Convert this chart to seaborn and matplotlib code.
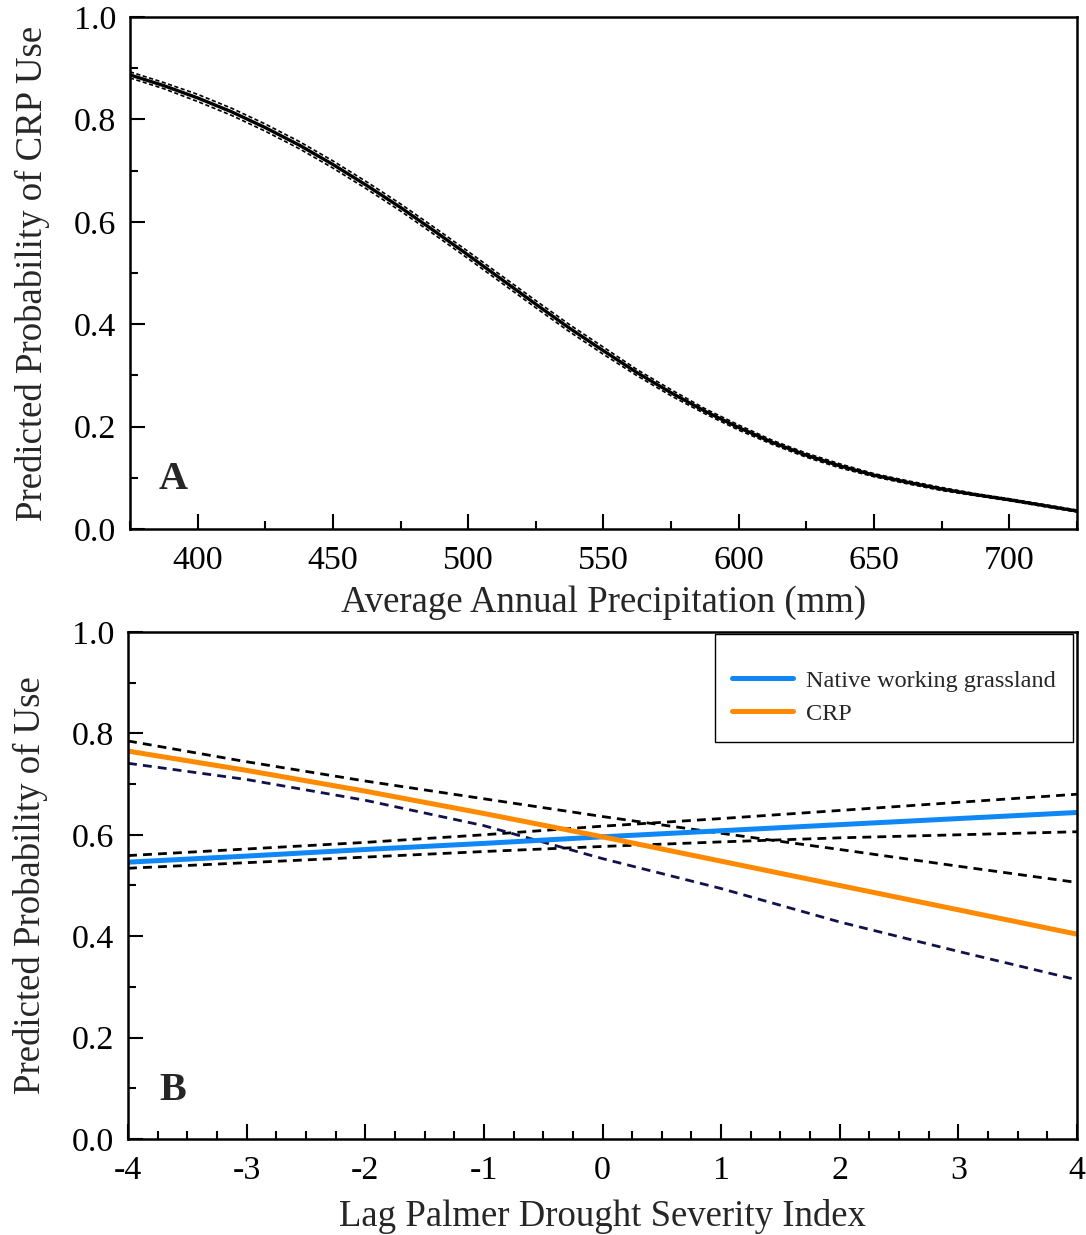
import numpy as np
import pandas as pd
import matplotlib
matplotlib.use("Agg")
import matplotlib.pyplot as plt
from matplotlib.ticker import MultipleLocator, FormatStrFormatter
import seaborn as sns

# ---------------- Data ----------------
# Panel A: precipitation (mm) vs predicted probability of CRP use
precip = [375, 387.5, 400, 412.5, 425, 437.5, 450, 462.5, 475, 487.5, 500, 512.5,
          525, 537.5, 550, 562.5, 575, 587.5, 600, 612.5, 625, 637.5, 650, 662.5,
          675, 687.5, 700, 712.5, 725]
prob_crp = [0.887, 0.866, 0.842, 0.815, 0.784, 0.750, 0.712, 0.671, 0.628, 0.582,
            0.535, 0.487, 0.439, 0.392, 0.348, 0.305, 0.266, 0.230, 0.198, 0.169,
            0.144, 0.123, 0.105, 0.091, 0.078, 0.067, 0.057, 0.046, 0.035]
prob_crp_upper = [0.893, 0.872, 0.849, 0.822, 0.791, 0.757, 0.719, 0.678, 0.635, 0.589,
                  0.542, 0.494, 0.446, 0.399, 0.355, 0.311, 0.272, 0.235, 0.203, 0.173,
                  0.148, 0.127, 0.108, 0.094, 0.081, 0.069, 0.059, 0.048, 0.037]
prob_crp_lower = [0.881, 0.860, 0.835, 0.808, 0.777, 0.743, 0.705, 0.664, 0.621, 0.575,
                  0.528, 0.480, 0.432, 0.385, 0.341, 0.299, 0.260, 0.225, 0.193, 0.165,
                  0.140, 0.119, 0.102, 0.088, 0.075, 0.065, 0.055, 0.044, 0.033]

# Panel B: lag PDSI vs predicted probability of use
pdsi = [-4, -3, -2, -1, 0, 1, 2, 3, 4]
native = [0.546, 0.558, 0.571, 0.583, 0.596, 0.608, 0.620, 0.632, 0.644]
native_upper = [0.559, 0.572, 0.585, 0.600, 0.617, 0.632, 0.648, 0.664, 0.680]
native_lower = [0.534, 0.545, 0.556, 0.567, 0.577, 0.586, 0.594, 0.600, 0.606]
crp = [0.765, 0.727, 0.686, 0.642, 0.596, 0.548, 0.500, 0.452, 0.404]
crp_upper = [0.785, 0.744, 0.706, 0.671, 0.636, 0.603, 0.571, 0.538, 0.506]
crp_lower = [0.741, 0.709, 0.668, 0.618, 0.553, 0.494, 0.428, 0.370, 0.314]

legend_labels = ["Native working grassland", "CRP"]
xlabel_a = "Average Annual Precipitation (mm)"
xlabel_b = "Lag Palmer Drought Severity Index"
ylabel_a = "Predicted Probability of CRP Use"
ylabel_b = "Predicted Probability of Use"

# ---------------- Style ----------------
sns.set_style("ticks")
plt.rcParams["font.family"] = ["Liberation Serif", "DejaVu Serif"]
plt.rcParams["axes.unicode_minus"] = False

BLUE = "#0f87f5"
ORANGE = "#ff8a00"
NAVY = "#12124a"

fig = plt.figure(figsize=(10.86, 12.35), dpi=100)
axA = fig.add_axes([0.1197, 0.5717, 0.8720, 0.4145])
axB = fig.add_axes([0.1179, 0.0777, 0.8738, 0.4106])

dfA = pd.DataFrame({"x": precip, "y": prob_crp, "up": prob_crp_upper, "lo": prob_crp_lower})
sns.lineplot(data=dfA, x="x", y="up", ax=axA, color="black", lw=1.2,
             linestyle=(0, (2.5, 1.5)), legend=False)
sns.lineplot(data=dfA, x="x", y="lo", ax=axA, color="black", lw=1.2,
             linestyle=(0, (2.5, 1.5)), legend=False)
sns.lineplot(data=dfA, x="x", y="y", ax=axA, color="black", lw=2.4, legend=False)

dfB = pd.DataFrame({"x": pdsi, "nat": native, "nat_up": native_upper, "nat_lo": native_lower,
                    "crp": crp, "crp_up": crp_upper, "crp_lo": crp_lower})
dash = (0, (3.2, 2.2))
sns.lineplot(data=dfB, x="x", y="nat_up", ax=axB, color="black", lw=2.0, linestyle=dash, legend=False)
sns.lineplot(data=dfB, x="x", y="nat_lo", ax=axB, color="black", lw=2.0, linestyle=dash, legend=False)
sns.lineplot(data=dfB, x="x", y="crp_up", ax=axB, color="black", lw=2.0, linestyle=dash, legend=False)
sns.lineplot(data=dfB, x="x", y="crp_lo", ax=axB, color=NAVY, lw=2.0, linestyle=dash, legend=False)
sns.lineplot(data=dfB, x="x", y="nat", ax=axB, color=BLUE, lw=3.6, label=legend_labels[0])
sns.lineplot(data=dfB, x="x", y="crp", ax=axB, color=ORANGE, lw=3.6, label=legend_labels[1])

# ---------------- Axes formatting ----------------
def style_axes(ax, xlim, xmaj, xmin, xfmt):
    ax.set_xlim(*xlim)
    ax.set_ylim(0, 1.0)
    ax.xaxis.set_major_locator(MultipleLocator(xmaj))
    ax.xaxis.set_minor_locator(MultipleLocator(xmin))
    ax.yaxis.set_major_locator(MultipleLocator(0.2))
    ax.yaxis.set_minor_locator(MultipleLocator(0.1))
    ax.yaxis.set_major_formatter(FormatStrFormatter("%.1f"))
    ax.xaxis.set_major_formatter(FormatStrFormatter(xfmt))
    ax.tick_params(which="both", direction="in", top=False, right=False, width=1.5,
                   colors="black", labelsize=24.5)
    ax.tick_params(which="major", length=11)
    ax.tick_params(axis="x", which="major", pad=12)
    ax.tick_params(axis="y", which="major", pad=10)
    ax.tick_params(which="minor", length=5.5)
    for s in ax.spines.values():
        s.set_linewidth(1.8)
        s.set_color("black")
        s.set_visible(True)

style_axes(axA, (375, 725), 50, 25, "%d")
style_axes(axB, (-4, 4), 1, 0.25, "%d")

axA.set_xlabel(xlabel_a, fontsize=26.5, labelpad=7)
axA.set_ylabel(ylabel_a, fontsize=26.5, labelpad=17)
axB.set_xlabel(xlabel_b, fontsize=26.5, labelpad=9)
axB.set_ylabel(ylabel_b, fontsize=26.5, labelpad=17)

axA.text(0.03, 0.097, "A", transform=axA.transAxes, fontsize=29, fontweight="bold",
         ha="left", va="center")
axB.text(0.033, 0.095, "B", transform=axB.transAxes, fontsize=29, fontweight="bold",
         ha="left", va="center")

leg = axB.legend(loc="upper right", bbox_to_anchor=(0.996, 0.996), fontsize=17.5,
                 title=" ", title_fontsize=6,
                 frameon=True, fancybox=False, edgecolor="black", framealpha=1,
                 handlelength=2.5, handletextpad=0.55, borderpad=0.7, labelspacing=0.45,
                 borderaxespad=0)
leg.get_frame().set_linewidth(1.0)
for h in leg.get_lines():
    h.set_linewidth(3.6)

fig.savefig("out.png", dpi=100)
